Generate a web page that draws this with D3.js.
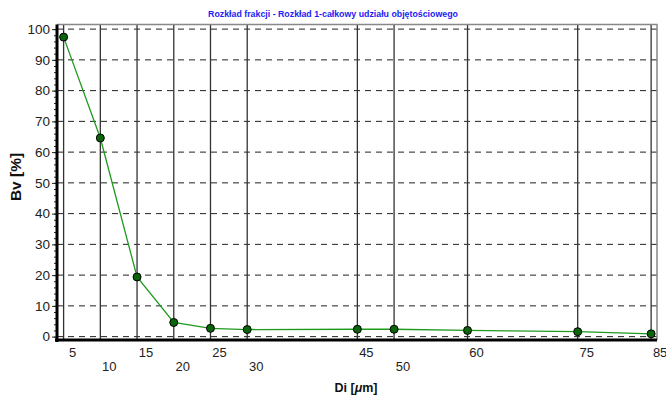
<!DOCTYPE html>
<html>
<head>
<meta charset="utf-8">
<script src="https://cdn.jsdelivr.net/npm/d3@7"></script>
<style>
  body { margin: 0; background: #fff; }
  text { font-family: "Liberation Sans", Arial, sans-serif; }
</style>
</head>
<body>
<div id="chart"></div>
<script>
// data
const sizes = [5, 10, 15, 20, 25, 30, 45, 50, 60, 75, 85];
const bv = [97.4, 64.6, 19.4, 4.6, 2.7, 2.3, 2.4, 2.4, 2.0, 1.6, 0.9];
const yTicks = [0, 10, 20, 30, 40, 50, 60, 70, 80, 90, 100];

const W = 666, H = 396;
const margin = { top: 24.5, right: 9, bottom: 56, left: 57 };

const svg = d3.select("#chart").append("svg")
    .attr("width", W).attr("height", H);

const x = d3.scaleLinear().domain([4.1, 85.8]).range([margin.left, W - margin.right]);
const y = d3.scaleLinear().domain([-1.1, 101.5]).range([H - margin.bottom, margin.top]);

const x0 = margin.left, x1 = W - margin.right;
const y0 = H - margin.bottom, y1 = margin.top;

// horizontal dashed grid
svg.append("g").selectAll("line")
    .data(yTicks)
    .join("line")
    .attr("x1", x0).attr("x2", x1)
    .attr("y1", d => y(d)).attr("y2", d => y(d))
    .attr("stroke", "#222").attr("stroke-width", 1)
    .attr("stroke-dasharray", "6,5");

// vertical lines at each size class
svg.append("g").selectAll("line")
    .data(sizes)
    .join("line")
    .attr("x1", d => x(d)).attr("x2", d => x(d))
    .attr("y1", y1).attr("y2", y0)
    .attr("stroke", "#333").attr("stroke-width", 1.3);

// frame top/right
svg.append("path")
    .attr("d", `M${x0},${y1}H${x1}V${y0}`)
    .attr("fill", "none").attr("stroke", "#888").attr("stroke-width", 1.5);

// left axis with minor ticks
const yAxis = svg.append("g").attr("transform", `translate(${x0},0)`);
yAxis.call(d3.axisLeft(y).tickValues(d3.range(0, 101, 2)).tickSize(3).tickFormat(""));
yAxis.call(g => g.select(".domain").remove());
const yMajor = svg.append("g").attr("transform", `translate(${x0},0)`)
    .call(d3.axisLeft(y).tickValues(yTicks).tickSize(5).tickPadding(2));
yMajor.select(".domain").remove();
yMajor.selectAll("text").attr("font-size", 13.5).attr("fill", "#222")
    .style("font-family", "'Liberation Sans', Arial, sans-serif");
svg.selectAll(".tick line").attr("stroke", "#222");

// bottom axis: staggered labels
let prevX = -1e9, prevRow = 1;
const rows = sizes.map(d => {
    const r = (x(d) - prevX < 50 && prevRow === 0) ? 1 : 0;
    prevX = x(d); prevRow = r;
    return r;
});
const xAxis = svg.append("g").attr("transform", `translate(0,${y0})`)
    .call(d3.axisBottom(x).tickValues(sizes).tickSize(0));
xAxis.select(".domain").remove();
xAxis.selectAll("text")
    .attr("font-size", 13).attr("fill", "#222")
    .style("font-family", "'Liberation Sans', Arial, sans-serif")
    .attr("dy", 0)
    .attr("x", 8.5)
    .attr("y", (d, i) => rows[i] ? 31 : 17);

// thick axis lines
svg.append("line").attr("x1", x0).attr("x2", x0).attr("y1", y1).attr("y2", y0 + 2)
    .attr("stroke", "#000").attr("stroke-width", 3);
svg.append("line").attr("x1", x0 - 2).attr("x2", x1).attr("y1", y0).attr("y2", y0)
    .attr("stroke", "#000").attr("stroke-width", 3);

// series line
svg.append("path")
    .datum(sizes.map((d, i) => [d, bv[i]]))
    .attr("fill", "none")
    .attr("stroke", "#1f9a1f").attr("stroke-width", 1.3)
    .attr("d", d3.line().x(d => x(d[0])).y(d => y(d[1])));

svg.append("g").selectAll("circle")
    .data(sizes)
    .join("circle")
    .attr("cx", d => x(d)).attr("cy", (d, i) => y(bv[i]))
    .attr("r", 4)
    .attr("fill", "#0a640a").attr("stroke", "#000").attr("stroke-width", 1);

// titles
svg.append("text")
    .attr("x", 333).attr("y", 17)
    .attr("text-anchor", "middle")
    .attr("font-size", 8.8).attr("font-weight", "bold").attr("fill", "#1c1cf5")
    .text("Rozkład frakcji - Rozkład 1-całkowy udziału objętościowego");

svg.append("text")
    .attr("transform", "translate(21,177) rotate(-90)")
    .attr("text-anchor", "middle")
    .attr("font-size", 15.5).attr("font-weight", "bold").attr("fill", "#111")
    .text("Bv [%]");

const di = svg.append("text")
    .attr("x", 356).attr("y", 392)
    .attr("text-anchor", "middle")
    .attr("font-size", 12.5).attr("font-weight", "bold").attr("fill", "#111");
di.append("tspan").text("Di [");
di.append("tspan").attr("font-style", "italic").text("μ");
di.append("tspan").text("m]");
</script>
</body>
</html>
